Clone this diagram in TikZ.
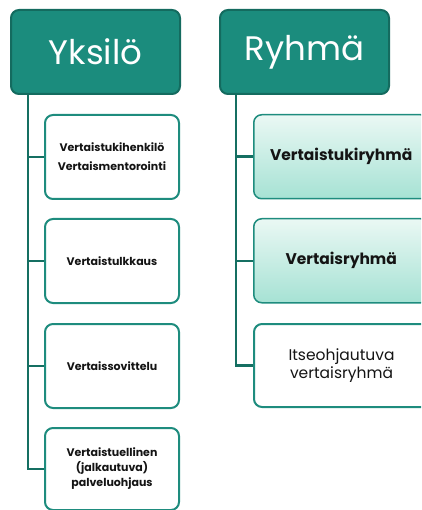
\documentclass[tikz,border=0pt]{standalone}
\usepackage{fontspec}
\setmainfont{Poppins}
\definecolor{headfill}{HTML}{1B8C7D}
\definecolor{headdraw}{HTML}{146B5F}
\definecolor{childdraw}{HTML}{1E8C7E}
\definecolor{trunk}{HTML}{156F62}
\definecolor{gradtop}{HTML}{EAF8F4}
\definecolor{gradbot}{HTML}{A6E2D4}
\definecolor{txt}{HTML}{141414}
\begin{document}
\begin{tikzpicture}[x=1pt,y=-1pt,
  headbox/.style={draw=headdraw,fill=headfill,line width=2pt,rounded corners=8pt,text=white,font=\fontsize{34}{40}\selectfont},
  childbox/.style={draw=childdraw,fill=white,line width=2pt,rounded corners=8pt,align=center,text=txt,font=\fontsize{11}{15}\selectfont\bfseries},
  gradbox/.style={draw=childdraw,top color=gradtop,bottom color=gradbot,line width=1.5pt,rounded corners=8pt,align=center,text=txt,font=\fontsize{15.5}{18}\selectfont\bfseries},
  plainbox/.style={draw=childdraw,fill=white,line width=2pt,rounded corners=8pt,align=center,text=txt,font=\fontsize{15.5}{18}\selectfont},
  conn/.style={draw=trunk,line width=2.5pt}]
\useasboundingbox (0,0) rectangle (421,510);
\clip (0,0) rectangle (421,510);
% header boxes
\node[headbox,minimum width=169pt,minimum height=84pt,anchor=north west] (yk) at (10,9) {Yksilö};
\node[headbox,minimum width=169pt,minimum height=84pt,anchor=north west] (ry) at (219,9) {Ryhmä};
% left children
\node[childbox,minimum width=134pt,minimum height=84pt,anchor=north west] (l1) at (44,114) {Vertaistukihenkilö\\[4pt]Vertaismentorointi};
\node[childbox,minimum width=134pt,minimum height=84pt,anchor=north west] (l2) at (44,218) {Vertaistulkkaus};
\node[childbox,minimum width=134pt,minimum height=84pt,anchor=north west] (l3) at (44,323) {Vertaissovittelu};
\node[childbox,minimum width=134pt,minimum height=82pt,anchor=north west] (l4) at (44,427) {Vertaistuellinen\\(jalkautuva)\\palveluohjaus};
% right children
\node[gradbox,minimum width=175pt,minimum height=84pt,anchor=north west] (r1) at (253,114) {Vertaistukiryhmä};
\node[gradbox,minimum width=175pt,minimum height=84pt,anchor=north west] (r2) at (253,218) {Vertaisryhmä};
\node[plainbox,minimum width=175pt,minimum height=83pt,anchor=north west] (r3) at (253,323) {Itseohjautuva\\vertaisryhmä};
% connectors
\draw[conn] (yk.south -| 28,0) |- (l4.west);
\draw[conn] (l1.west -| 28,0) -- (l1.west);
\draw[conn] (l2.west -| 28,0) -- (l2.west);
\draw[conn] (l3.west -| 28,0) -- (l3.west);
\draw[conn] (ry.south -| 236,0) |- (r3.west);
\draw[conn] (r1.west -| 236,0) -- (r1.west);
\draw[conn] (r2.west -| 236,0) -- (r2.west);
\end{tikzpicture}
\end{document}
